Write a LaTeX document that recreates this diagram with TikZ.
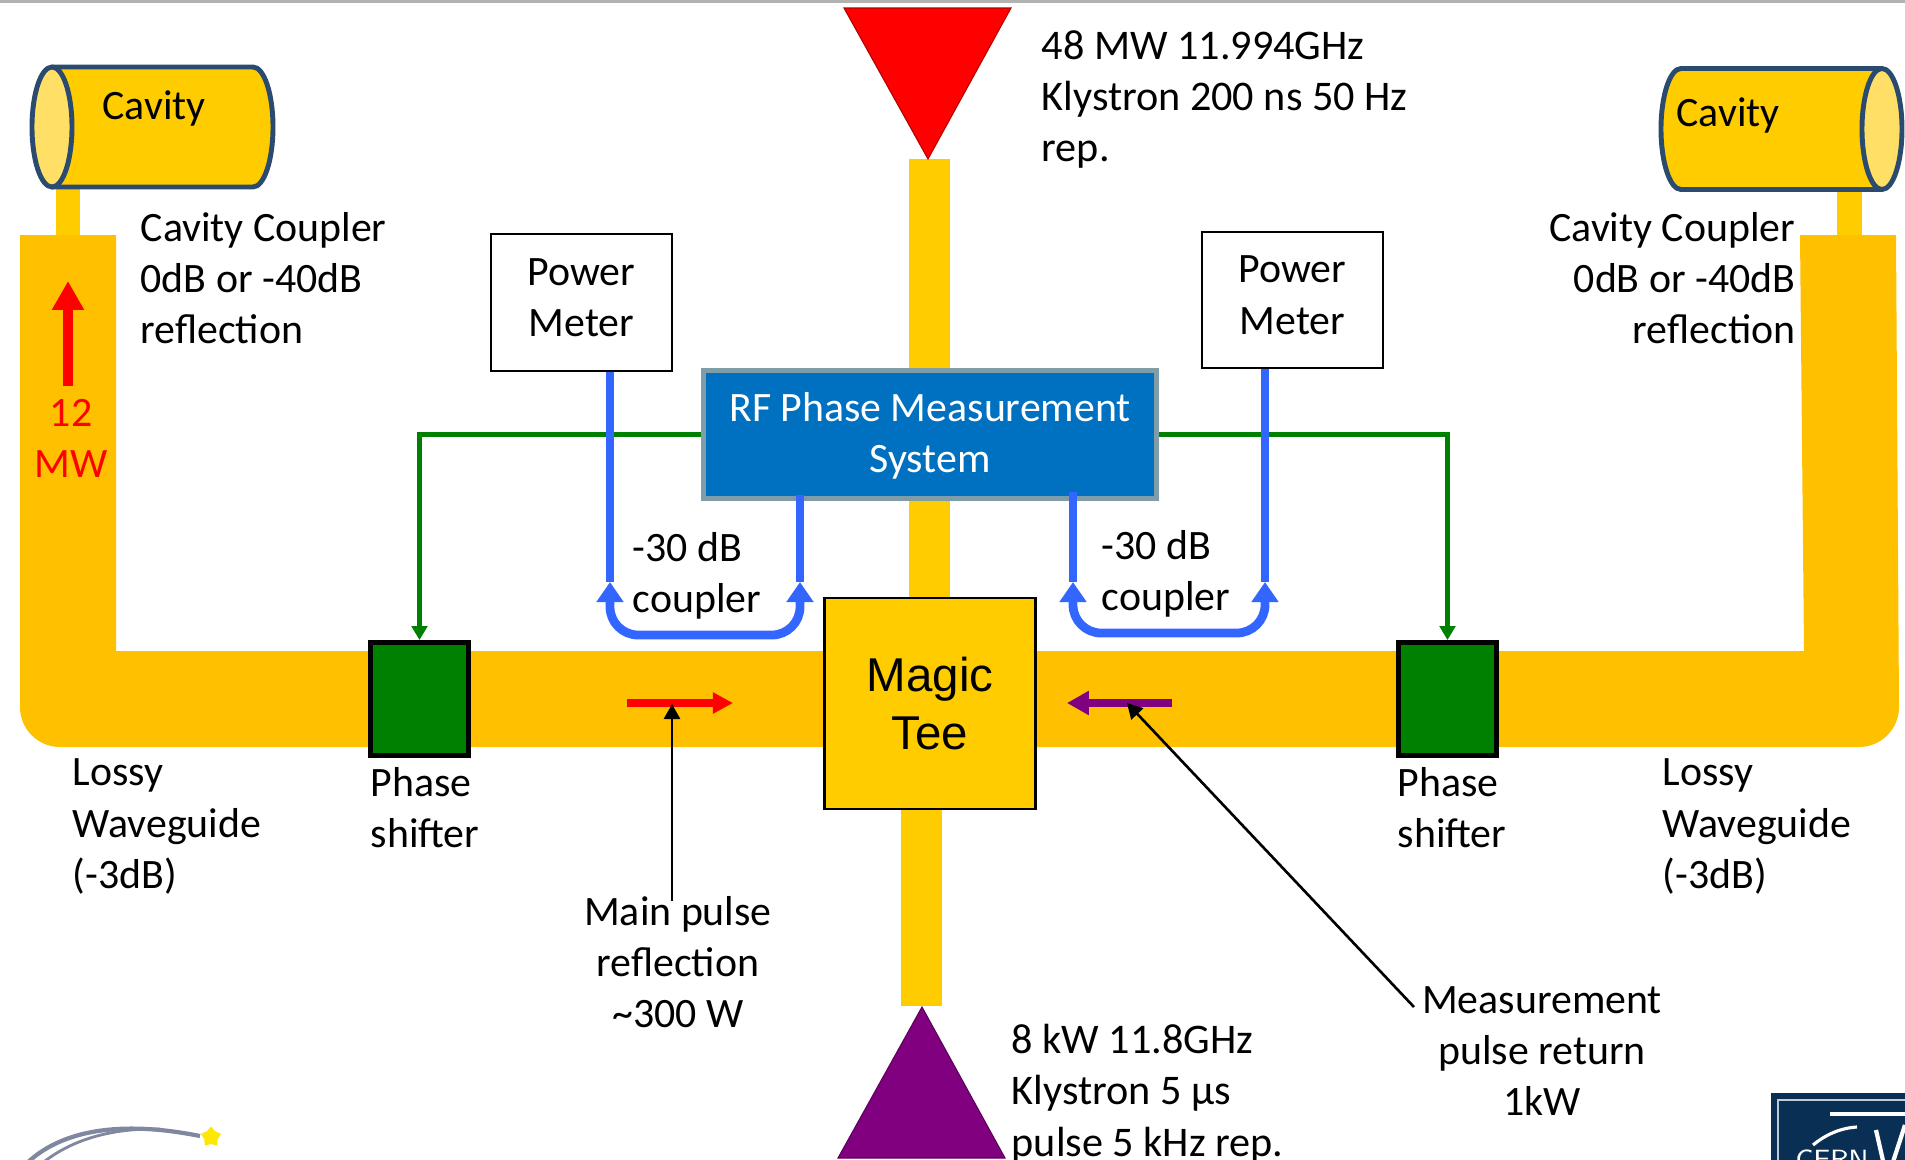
\documentclass[tikz,border=0pt]{standalone}
\usepackage{fontspec}
\usepackage{xcolor}
\usetikzlibrary{arrows.meta,shapes.geometric}
\setmainfont{Carlito}
\newfontfamily\teefont{Liberation Sans}
\definecolor{guide}{HTML}{FFC000}
\definecolor{stub}{HTML}{FFCC00}
\definecolor{canline}{HTML}{2A4A6F}
\definecolor{canend}{HTML}{FFDF66}
\definecolor{rfblue}{HTML}{0070C0}
\definecolor{rfedge}{HTML}{7F9DA9}
\definecolor{wireblue}{HTML}{3366FF}
\definecolor{navy}{HTML}{0A2F55}
\definecolor{shiftgreen}{HTML}{008000}
\definecolor{lowpurple}{HTML}{800080}
\definecolor{swoosh}{HTML}{7F889E}
\tikzset{
  lbl/.style={font=\fontsize{11.9}{14.55}\selectfont, inner sep=0pt},
  klylbl/.style={font=\fontsize{12}{14.6}\selectfont, inner sep=0pt, anchor=west, align=left},
  meterbox/.style={draw, line width=.6pt, fill=white, minimum width=51.4pt, minimum height=38.9pt, inner sep=0pt, align=center, text depth=2.8pt, font=\fontsize{11.9}{14.55}\selectfont},
  shifterbox/.style={draw, line width=1.5pt, fill=shiftgreen, minimum width=28pt, minimum height=32pt},
  cable/.style={line width=2.5pt, wireblue},
  greenwire/.style={line width=1.3pt, shiftgreen, -{Triangle[length=4pt,width=4.4pt]}},
  pointer/.style={line width=.75pt, -{Triangle[length=4.3pt,width=4.6pt]}}
}
\begin{document}
\begin{tikzpicture}[x=0.01cm,y=-0.01cm]
\path[use as bounding box,clip] (0,0) rectangle (1905,1160);
\fill[black!30] (0,0) rectangle (1905,3);
\fill[stub] (56,180) rectangle (80,240);
\fill[stub] (1837,180) rectangle (1862,240);
\fill[stub] (909,159) rectangle (950,600);
\fill[stub] (901,800) rectangle (942,1006);
\fill[guide] (20,235) -- (116,235) -- (116,651) -- (1804,651) -- (1800,235) -- (1896,235) -- (1899,707) arc (0:90:40) -- (60,747) arc (90:180:40) -- cycle;
\draw[canline, fill=stub, line width=1.4pt] (52,67) -- (253,67) arc (-90:90:20 and 60) -- (52,187);
\draw[canline, fill=canend, line width=1.4pt] (52,127) ellipse (20 and 60);
\draw[canline, fill=stub, line width=1.4pt] (1882,68.5) -- (1681,68.5) arc (270:90:20 and 60.5) -- (1882,189.5);
\draw[canline, fill=canend, line width=1.4pt] (1882,129) ellipse (20 and 60.5);
\draw[red!70!black, fill=red, line width=.3pt] (844,8) -- (1011,8) -- (928,159) -- cycle;
\draw[lowpurple!70!black, fill=lowpurple, line width=.3pt] (838,1158) -- (1005,1158) -- (922,1007) -- cycle;
\node[lbl](cavityL) at (154,108.5){Cavity};
\node[lbl](cavityR) at (1728,115.5){Cavity};
\node[klylbl](klyHigh) at (1041,99.5){48 MW 11.994GHz\\Klystron 200 ns 50 Hz\\rep.};
\node[klylbl](klyLow) at (1011,1093.5){8 kW 11.8GHz\\Klystron 5 µs\\pulse 5 kHz rep.};
\node[lbl,anchor=west,align=left](couplerL) at (140,278){Cavity Coupler\\0dB or -40dB\\reflection};
\node[lbl,anchor=east,align=right](couplerR) at (1796,278){Cavity Coupler\\0dB or -40dB\\reflection};
\node[meterbox](meterL) at (581.5,302.5){Power\\Meter};
\node[meterbox](meterR) at (1292.5,300){Power\\Meter};
\node[draw=rfedge, line width=1.4pt, fill=rfblue, text=white, minimum width=129pt, minimum height=36.5pt, inner sep=0pt, align=center, text depth=1pt, font=\fontsize{11.9}{14.55}\selectfont](rfbox) at (930,434.5){RF Phase Measurement\\System};
\node[draw, line width=.6pt, fill=stub, minimum width=60pt, minimum height=60pt, inner sep=0pt, align=center, font=\teefont\fontsize{13.5}{16.5}\selectfont](tee) at (930,703.5){Magic\\Tee};
\node[shifterbox](shifterL) at (419.5,699){};
\node[shifterbox](shifterR) at (1447.5,699){};
\draw[greenwire] (rfbox) -| (shifterL);
\draw[greenwire] (rfbox) -| (shifterR);
\coordinate (tipLa) at (610,582);
\coordinate (tipLb) at (800,582);
\coordinate (tipRa) at (1073,582);
\coordinate (tipRb) at (1265,582);
\coordinate (feedLb) at (800,495);
\coordinate (feedRa) at (1073,492);
\coordinate (baseL) at (705,635);
\coordinate (baseR) at (1169,633);
\draw[cable] (meterL.south -| tipLa) -- (tipLa);
\draw[cable] (feedLb) -- (tipLb);
\draw[cable] (feedRa) -- (tipRa);
\draw[cable] (meterR.south -| tipRb) -- (tipRb);
\draw[cable, rounded corners=8pt, {Triangle[length=5.7pt,width=7.4pt]}-{Triangle[length=5.7pt,width=7.4pt]}] (tipLa) |- (baseL) -| (tipLb);
\draw[cable, rounded corners=8pt, {Triangle[length=5.7pt,width=7.4pt]}-{Triangle[length=5.7pt,width=7.4pt]}] (tipRa) |- (baseR) -| (tipRb);
\node[lbl,anchor=west,align=left](dbL) at (632,576){-30 dB\\coupler};
\node[lbl,anchor=west,align=left](dbR) at (1101,574){-30 dB\\coupler};
\coordinate (mwTail) at (68,386);
\coordinate (mwTip) at (68,281);
\draw[line width=2.9pt, red, -{Triangle[length=8.2pt,width=8.6pt]}] (mwTail) -- (mwTip);
\node[lbl,text=red,align=center](mw) at (71,438){12\\MW};
\coordinate (mainTail) at (627,703);
\coordinate (mainTip) at (733,703);
\draw[line width=2pt, red, -{Triangle[length=5.7pt,width=5.7pt]}] (mainTail) -- (mainTip);
\coordinate (pulseTail) at (1172,703);
\coordinate (pulseTip) at (1067,703);
\draw[line width=2.3pt, lowpurple, -{Triangle[length=6.2pt,width=6.5pt]}] (pulseTail) -- (pulseTip);
\node[lbl,anchor=west,align=left](lossyL) at (72,826.5){Lossy\\Waveguide\\(-3dB)};
\node[lbl,anchor=west,align=left](lossyR) at (1662,826.5){Lossy\\Waveguide\\(-3dB)};
\node[lbl,anchor=west,align=left](phaseL) at (370,808){Phase\\shifter};
\node[lbl,anchor=west,align=left](phaseR) at (1397,808){Phase\\shifter};
\node[lbl,align=center](mainLbl) at (678,962){Main pulse\\reflection\\\textasciitilde300 W};
\node[lbl,align=center](pulseLbl) at (1542,1051){Measurement\\pulse return\\1kW};
\coordinate (mainFrom) at (672,901);
\coordinate (mainTo) at (672,704);
\coordinate (pulseFrom) at (1414,1007);
\coordinate (pulseTo) at (1127,703);
\draw[pointer] (mainFrom) -- (mainTo);
\draw[pointer] (pulseFrom) -- (pulseTo);
\draw[line width=1.2pt, swoosh] (25,1165) .. controls (60,1130) and (120,1120) .. (200,1136);
\draw[line width=.8pt, swoosh] (40,1165) .. controls (70,1140) and (110,1128) .. (160,1129);
\node[star, star points=5, fill=yellow!90!orange, minimum size=6pt, inner sep=0pt](starLogo) at (211,1137){};
\fill[navy] (1771,1093) rectangle (1905,1160);
\draw[white!75!navy, line width=.8pt] (1778,1175) -- (1778,1100) -- (1910,1100);
\draw[white, line width=1.7pt] (1787,1165) arc (180:0:43 and 51);
\draw[white, line width=1.3pt] (1830,1114) -- (1905,1114);
\draw[white, line width=.9pt] (1813,1145) .. controls (1825,1135) and (1840,1128) .. (1857,1127);
\draw[white, line width=1.2pt] (1876,1130) -- (1884,1165);
\draw[white, line width=1.2pt] (1892,1165) -- (1905,1125);
\node[text=white, inner sep=0pt, font=\sffamily\fontsize{7.5}{9}\selectfont](cern) at (1832,1159){CERN};
\end{tikzpicture}
\end{document}
